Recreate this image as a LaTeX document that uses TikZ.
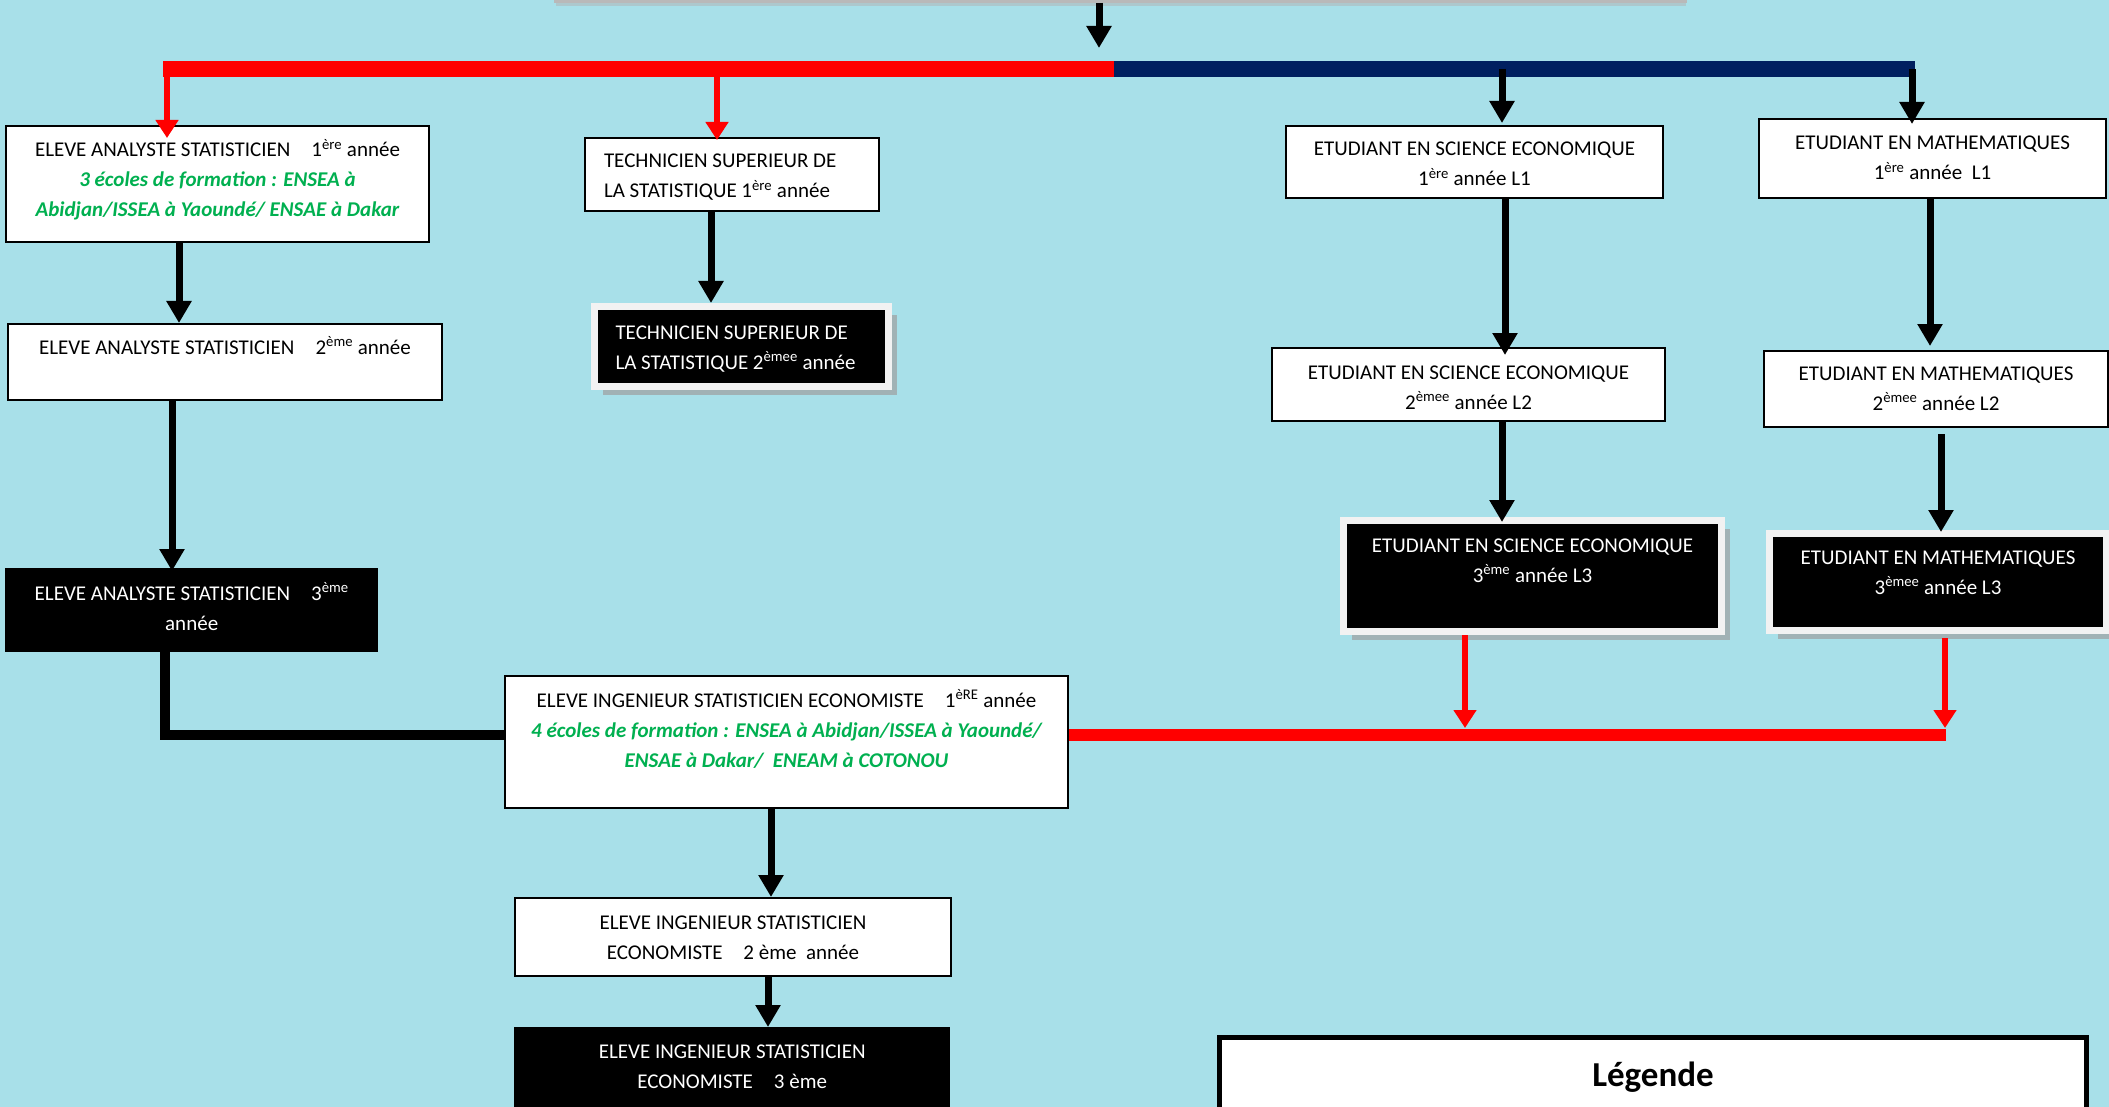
\documentclass[tikz,border=0pt]{standalone}
\usepackage{fontspec}
\setmainfont{Carlito}
\usetikzlibrary{arrows.meta,shadows}
\definecolor{bgc}{RGB}{168,224,233}
\definecolor{redc}{RGB}{255,0,0}
\definecolor{navyc}{RGB}{0,32,96}
\definecolor{grn}{RGB}{0,176,80}
\definecolor{framec}{RGB}{242,242,242}
\newcommand\fsz{\fontsize{21}{30}\selectfont}
\newcommand\boxtxt[5]{\parbox[c][#2][t]{#1}{#4\rule{0pt}{#3}#5\par}}
\newcommand\gtxt[1]{{\color{grn}\bfseries\itshape #1}}
\tikzset{
  wbox/.style={draw=black, line width=2pt, fill=white, inner sep=0pt, anchor=north west, font=\fsz},
  kbox/.style={fill=black, text=white, inner sep=0pt, anchor=north west, font=\fsz},
  fbox/.style={kbox, draw=framec, line width=7pt,
    drop shadow={shadow xshift=8pt, shadow yshift=-8pt, fill=gray!75, opacity=0.7}},
  blkarr/.style={draw=black, line width=7pt, -{Triangle[width=24pt,length=22pt]}},
  redarr/.style={draw=redc, line width=5.5pt, -{Triangle[width=22pt,length=18pt]}},
  topbar/.style={line width=16pt},
  lowbar/.style={line width=12pt},
}
\begin{document}
\begin{tikzpicture}[x=1pt,y=-1pt]
\clip (0,0) rectangle (2109,1107);
\fill[bgc] (0,0) rectangle (2109,1107);

% top (cropped) box
\node[draw=gray!55, line width=3pt, fill=white, inner sep=0pt, minimum width=1130pt,
  minimum height=60pt, anchor=south west,
  drop shadow={shadow xshift=0pt, shadow yshift=-5pt, fill=gray!60}] (top) at (554,3) {};

% boxes
\node[wbox] (a1) at (5,125) {\boxtxt{423pt}{116pt}{31pt}{\centering}{ELEVE ANALYSTE STATISTICIEN\quad 1\textsuperscript{ère} année\\
  \gtxt{3 écoles de formation : ENSEA à}\\ \gtxt{Abidjan/ISSEA à Yaoundé/ ENSAE à Dakar}}};
\node[wbox] (a2) at (7,323) {\boxtxt{434pt}{76pt}{30pt}{\centering}{ELEVE ANALYSTE STATISTICIEN\quad 2\textsuperscript{ème} année}};
\node[kbox] (a3) at (5,568) {\boxtxt{373pt}{84pt}{32pt}{\centering}{ELEVE ANALYSTE STATISTICIEN\quad 3\textsuperscript{ème}\\ année}};

\node[wbox] (ts1) at (584,137) {\boxtxt{294pt}{73pt}{30pt}{\raggedright\leftskip=19pt\relax}{TECHNICIEN SUPERIEUR DE\\ LA STATISTIQUE 1\textsuperscript{ère} année}};
\node[fbox] (ts2) at (591,303) {\boxtxt{294pt}{80pt}{33pt}{\raggedright\leftskip=21pt\relax}{TECHNICIEN SUPERIEUR DE\\ LA STATISTIQUE 2\textsuperscript{èmee} année}};

\node[wbox] (e1) at (1285,125) {\boxtxt{377pt}{72pt}{30pt}{\centering}{ETUDIANT EN SCIENCE ECONOMIQUE\\ 1\textsuperscript{ère} année L1}};
\node[wbox] (e2) at (1271,347) {\boxtxt{393pt}{73pt}{31pt}{\centering}{ETUDIANT EN SCIENCE ECONOMIQUE\\ 2\textsuperscript{èmee} année L2}};
\node[fbox] (e3) at (1340,517) {\boxtxt{378pt}{111pt}{32pt}{\centering}{ETUDIANT EN SCIENCE ECONOMIQUE\\ 3\textsuperscript{ème} année L3}};

\node[wbox] (m1) at (1758,118) {\boxtxt{347pt}{79pt}{31pt}{\centering}{ETUDIANT EN MATHEMATIQUES\\ 1\textsuperscript{ère} année\ \ L1}};
\node[wbox] (m2) at (1763,350) {\boxtxt{344pt}{76pt}{29pt}{\centering}{ETUDIANT EN MATHEMATIQUES\\ 2\textsuperscript{èmee} année L2}};
\node[fbox] (m3) at (1766,530) {\boxtxt{337pt}{97pt}{31pt}{\centering}{ETUDIANT EN MATHEMATIQUES\\ 3\textsuperscript{èmee} année L3}};

\node[wbox] (ie1) at (504,675) {\boxtxt{563pt}{132pt}{31pt}{\centering}{ELEVE INGENIEUR STATISTICIEN ECONOMISTE\quad 1\textsuperscript{èRE} année\\
  \gtxt{4 écoles de formation : ENSEA à Abidjan/ISSEA à Yaoundé/}\\ \gtxt{ENSAE à Dakar/\ \ ENEAM à COTONOU}}};
\node[wbox] (ie2) at (514,897) {\boxtxt{436pt}{78pt}{31pt}{\centering}{ELEVE INGENIEUR STATISTICIEN\\ ECONOMISTE\quad 2 ème\ \ année}};
\node[kbox] (ie3) at (514,1027) {\boxtxt{436pt}{100pt}{31pt}{\centering}{ELEVE INGENIEUR STATISTICIEN\\ ECONOMISTE\quad 3 ème}};

\node[draw=black, line width=5pt, fill=white, inner sep=0pt, anchor=north west] (leg) at (1217,1035)
  {\parbox[c][100pt][t]{867pt}{\centering\rule{0pt}{49pt}{\fontsize{35}{40}\selectfont\bfseries Légende}\par}};

% top distribution bar
\coordinate (jt) at (1099,48);
\coordinate (bl) at (163,69);
\coordinate (bm) at (1114,69);
\coordinate (br) at (1915,69);
\coordinate (ra1) at (167,69);
\coordinate (ra2) at (717,69);
\coordinate (na1) at (1502,69);
\coordinate (na2) at (1912,69);
\draw[blkarr] (top.south -| jt) -- (jt);
\draw[topbar, redc] (bl) -- (bm);
\draw[topbar, navyc] (bm) -- (br);
\draw[redarr, shorten >=-13pt] (ra1) -- (ra1 |- a1.north);
\draw[redarr, shorten >=-3pt] (ra2) -- (ra2 |- ts1.north);
\draw[blkarr, shorten >=2pt] (na1) -- (na1 |- e1.north);
\draw[blkarr, shorten >=-6pt] (na2) -- (na2 |- m1.north);

% vertical chains
\draw[blkarr] ([xshift=174pt]a1.south west) -- ([xshift=174pt]a1.south west |- a2.north);
\draw[blkarr, shorten >=-3pt] ([xshift=165pt]a2.south west) -- ([xshift=165pt]a2.south west |- a3.north);
\draw[line width=10pt] ([xshift=160pt]a3.south west) |- ([yshift=-60pt]ie1.north west);

\draw[blkarr] ([xshift=127pt]ts1.south west) -- ([xshift=127pt]ts1.south west |- ts2.north);

\draw[blkarr, shorten >=-8pt] ([xshift=220pt]e1.south west) -- ([xshift=220pt]e1.south west |- e2.north);
\draw[blkarr, shorten >=-5pt] ([xshift=231pt]e2.south west) -- ([xshift=231pt]e2.south west |- e3.north);

\draw[blkarr, shorten >=4pt] ([xshift=172pt]m1.south west) -- ([xshift=172pt]m1.south west |- m2.north);
\draw[blkarr, shorten <=6pt, shorten >=-2pt] ([xshift=178pt]m2.south west) -- ([xshift=178pt]m2.south west |- m3.north);

% bottom collector
\coordinate (rb) at (1946,735);
\draw[lowbar, redc] ([yshift=-60pt]ie1.north east) -- (rb);
\draw[redarr, shorten >=7pt] ([xshift=125pt]e3.south west) -- ([xshift=125pt]e3.south west |- rb);
\draw[redarr, shorten <=4pt, shorten >=7pt] ([xshift=179pt]m3.south west) -- ([xshift=179pt]m3.south west |- rb);

\draw[blkarr] ([xshift=267pt]ie1.south west) -- ([xshift=267pt]ie1.south west |- ie2.north);
\draw[blkarr] ([xshift=254pt]ie2.south west) -- ([xshift=254pt]ie2.south west |- ie3.north);
\end{tikzpicture}
\end{document}
